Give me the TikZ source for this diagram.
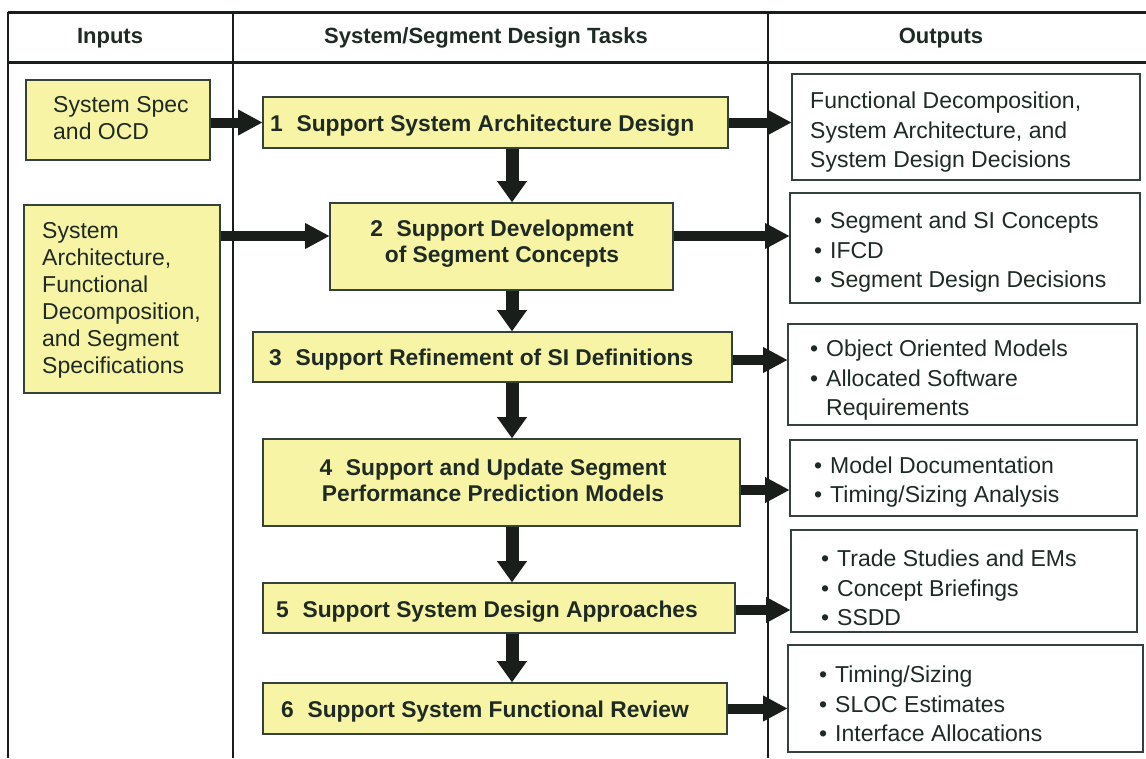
\documentclass[tikz,border=0pt]{standalone}
\usepackage{fontspec}
\setmainfont{Liberation Sans}
\usetikzlibrary{arrows.meta,calc}
\definecolor{yfill}{HTML}{F8F4A6}
\definecolor{bline}{HTML}{33423A}
\definecolor{tcol}{HTML}{1E2A24}
\definecolor{acol}{HTML}{1A1E1A}
\begin{document}
\begin{tikzpicture}[x=1pt,y=-1pt,
  gridline/.style={draw=acol,line width=2pt},
  hdr/.style={font=\fontsize{22}{26}\selectfont\bfseries,text=tcol,inner sep=0pt},
  inbox/.style={draw=bline,fill=yfill,line width=1.6pt,inner sep=0pt},
  outbox/.style={draw=bline,fill=white,line width=1.6pt,inner sep=0pt},
  intxt/.style={font=\fontsize{23}{27}\selectfont,text=tcol,align=left,inner sep=0pt,anchor=west},
  outtxt/.style={font=\fontsize{23}{29.5}\selectfont,text=tcol,align=left,inner sep=0pt,anchor=west},
  tasktxt/.style={font=\fontsize{22.8}{26}\selectfont\bfseries,text=tcol,align=center,inner sep=0pt},
  harrow/.style={draw=acol,line width=10pt,-{Triangle[length=24pt,width=26pt,line width=0pt]}},
  varrow/.style={draw=acol,line width=13pt,-{Triangle[length=21pt,width=30pt,line width=0pt]}}
]
\newcommand{\bl}{\makebox[16pt][l]{\textbullet}}
\useasboundingbox (0,0) rectangle (1146,758);
% table grid
\draw[gridline,line width=3pt] (8,12) -- (1146,12);
\draw[gridline,line width=3pt] (8,62) -- (1146,62);
\draw[gridline] (8,12) -- (8,758);
\draw[gridline] (233,12) -- (233,758);
\draw[gridline] (768,12) -- (768,758);
\node[hdr] (h1) at (110,38) {Inputs};
\node[hdr] (h2) at (486,38) {System/Segment Design Tasks};
\node[hdr] (h3) at (941,38) {Outputs};
% inputs
\node[inbox,minimum width=184pt,minimum height=80pt] (i1) at (118,120) {};
\node[intxt] (i1t) at (53,118) {System Spec\\and OCD};
\node[inbox,minimum width=196pt,minimum height=188pt] (i2) at (122,299) {};
\node[intxt] (i2t) at (42,300) {System\\Architecture,\\Functional\\Decomposition,\\and Segment\\Specifications};
% tasks
\node[inbox,minimum width=465pt,minimum height=51pt] (t1) at (495.5,122.5) {};
\node[tasktxt,anchor=west] (t1t) at (270,125.5) {1\hspace{0.6em}Support System Architecture Design};
\node[inbox,minimum width=343pt,minimum height=87pt] (t2) at (501.5,246.5) {};
\node[tasktxt] (t2t) at (502,244) {2\hspace{0.6em}Support Development\\of Segment Concepts};
\node[inbox,minimum width=479pt,minimum height=50pt] (t3) at (492.5,357) {};
\node[tasktxt,anchor=west] (t3t) at (269,360) {3\hspace{0.6em}Support Refinement of SI Definitions};
\node[inbox,minimum width=477pt,minimum height=87pt] (t4) at (501.5,482.5) {};
\node[tasktxt] (t4t) at (493,480) {4\hspace{0.6em}Support and Update Segment\\Performance Prediction Models};
\node[inbox,minimum width=472pt,minimum height=50pt] (t5) at (499,608) {};
\node[tasktxt,anchor=west] (t5t) at (276,611.5) {5\hspace{0.6em}Support System Design Approaches};
\node[inbox,minimum width=464pt,minimum height=51pt] (t6) at (495,708.5) {};
\node[tasktxt,anchor=west] (t6t) at (281,711.5) {6\hspace{0.6em}Support System Functional Review};
% outputs
\node[outbox,minimum width=348pt,minimum height=106pt] (o1) at (966,127) {};
\node[outtxt] (o1t) at (810,132.5) {Functional Decomposition,\\System Architecture, and\\System Design Decisions};
\node[outbox,minimum width=350pt,minimum height=110pt] (o2) at (965,248) {};
\node[outtxt] (o2t) at (814,252.5) {\bl Segment and SI Concepts\\\bl IFCD\\\bl Segment Design Decisions};
\node[outbox,minimum width=349pt,minimum height=101pt] (o3) at (962.5,374.5) {};
\node[outtxt] (o3t) at (810,380.5) {\bl Object Oriented Models\\\bl Allocated Software\\\hspace*{16pt}Requirements};
\node[outbox,minimum width=347pt,minimum height=76pt] (o4) at (963.5,478) {};
\node[outtxt] (o4t) at (814,482) {\bl Model Documentation\\\bl Timing/Sizing Analysis};
\node[outbox,minimum width=346pt,minimum height=102pt] (o5) at (964,581) {};
\node[outtxt] (o5t) at (821,588) {\bl Trade Studies and EMs\\\bl Concept Briefings\\\bl SSDD};
\node[outbox,minimum width=355pt,minimum height=107pt] (o6) at (965.5,698.5) {};
\node[outtxt] (o6t) at (819,704) {\bl Timing/Sizing\\\bl SLOC Estimates\\\bl Interface Allocations};
% connectors
\coordinate (ax) at (512,0);
\coordinate (ya) at (0,236);
\coordinate (a3) at ([yshift=-3pt]t3.east);
\coordinate (a4) at ([yshift=-7.5pt]t4.east);
\coordinate (a5) at ([yshift=-2pt]t5.east);
\draw[harrow] (i1.east |- t1.west) -- (t1.west);
\draw[harrow] (i2.east |- ya) -- (t2.west |- ya);
\draw[harrow] (t1.east) -- (o1.west |- t1.east);
\draw[harrow] (t2.east |- ya) -- (o2.west |- ya);
\draw[harrow] (a3) -- (o3.west |- a3);
\draw[harrow] (a4) -- (o4.west |- a4);
\draw[harrow] (a5) -- (o5.west |- a5);
\draw[harrow] (t6.east) -- (o6.west |- t6.east);
\draw[varrow] (t1.south -| ax) -- (t2.north -| ax);
\draw[varrow] (t2.south -| ax) -- (t3.north -| ax);
\draw[varrow] (t3.south -| ax) -- (t4.north -| ax);
\draw[varrow] (t4.south -| ax) -- (t5.north -| ax);
\draw[varrow] (t5.south -| ax) -- (t6.north -| ax);
\end{tikzpicture}
\end{document}
